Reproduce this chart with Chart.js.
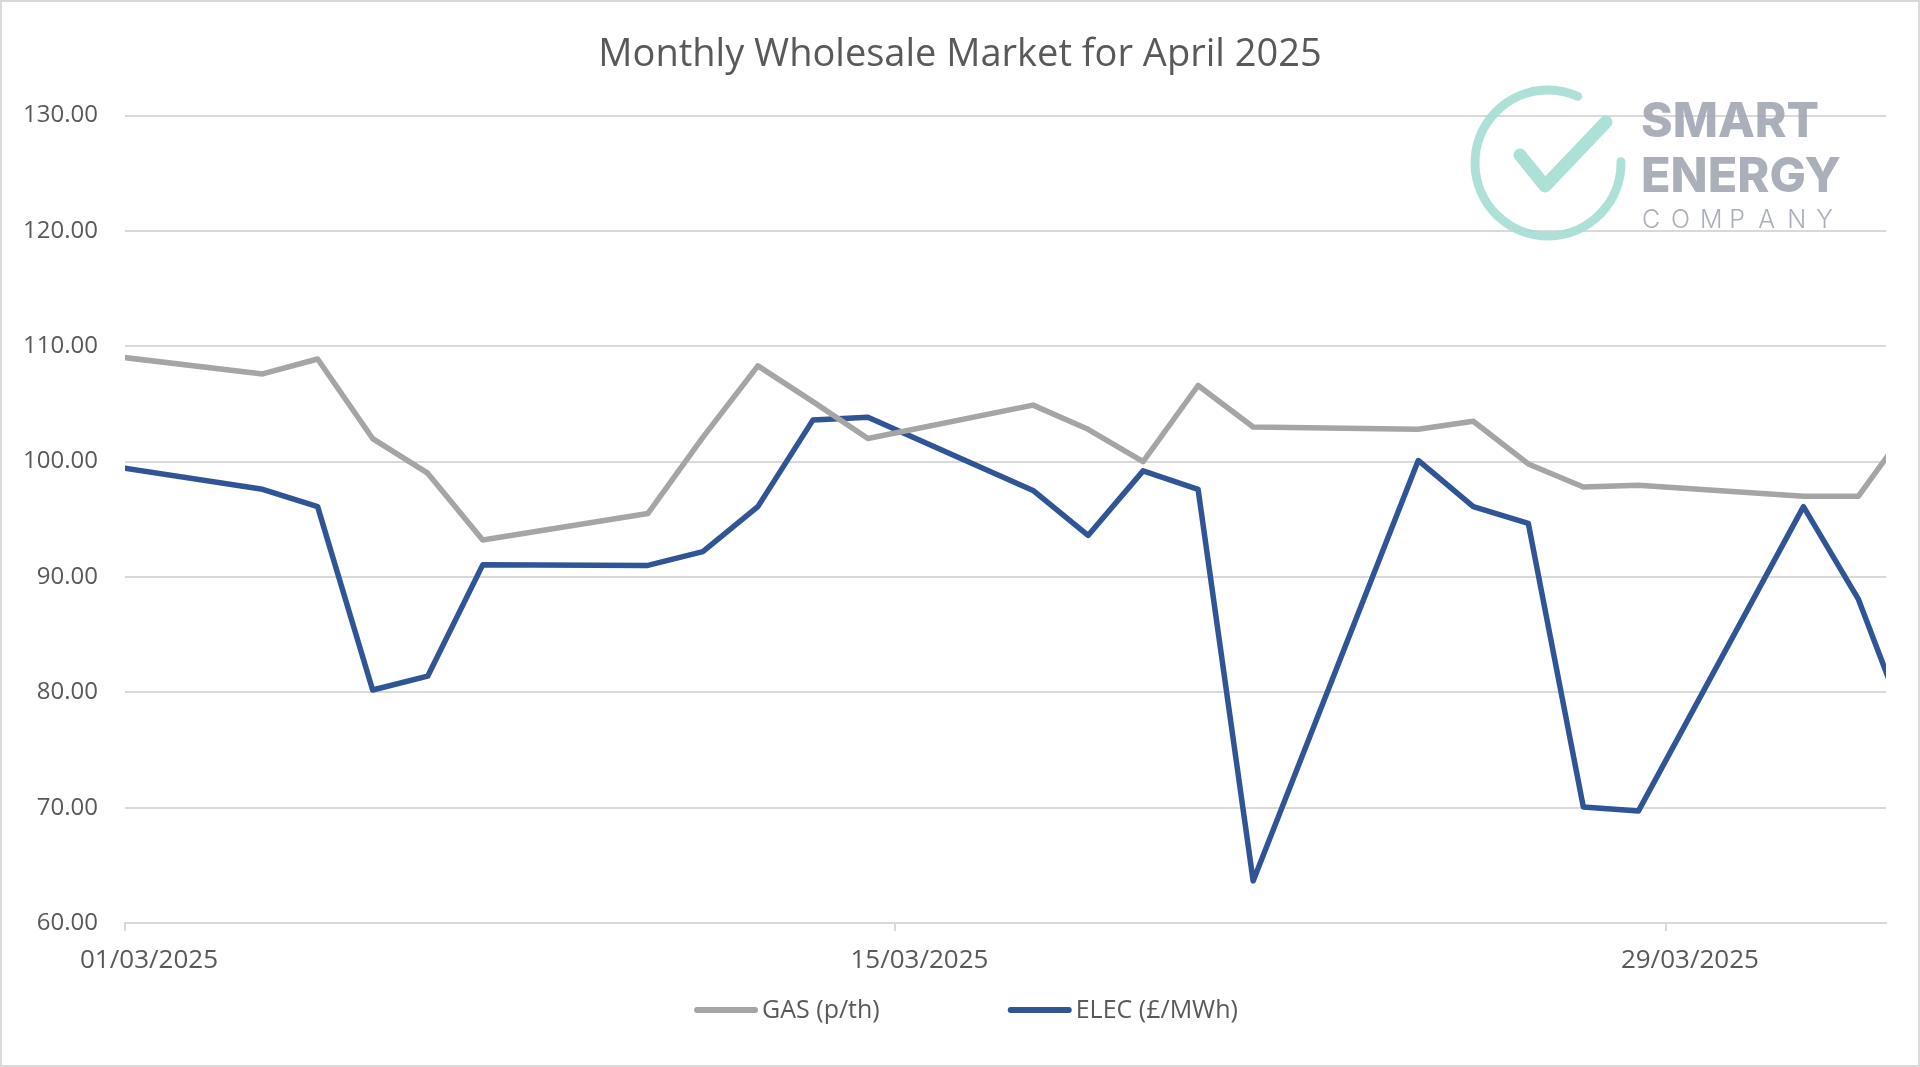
<!DOCTYPE html>
<html>
<head>
<meta charset="utf-8">
<title>Monthly Wholesale Market for April 2025</title>
<script src="https://cdn.jsdelivr.net/npm/chart.js@4.4.1/dist/chart.umd.min.js"></script>
<style>
    html, body { margin: 0; padding: 0; background: #ffffff; }
    #wholesaleChart { display: block; }
</style>
</head>
<body>
<canvas id="wholesaleChart" width="1920" height="1067"></canvas>
<script>
// Trading days only - the line runs straight across weekends
const dates = [
    "28/02/2025", "03/03/2025", "04/03/2025", "05/03/2025", "06/03/2025", "07/03/2025",
    "10/03/2025", "11/03/2025", "12/03/2025", "13/03/2025", "14/03/2025",
    "17/03/2025", "18/03/2025", "19/03/2025", "20/03/2025", "21/03/2025",
    "24/03/2025", "25/03/2025", "26/03/2025", "27/03/2025", "28/03/2025",
    "31/03/2025", "01/04/2025", "02/04/2025",
];
const gasPrices = [
    109.3, 107.6, 108.9, 102.0, 99.0, 93.2,
    95.5, 102.1, 108.3, 105.2, 102.0,
    104.9, 102.8, 100.0, 106.6, 103.0,
    102.8, 103.5, 99.8, 97.8, 97.95,
    97.0, 97.0, 103.6,
];
const elecPrices = [
    99.8, 97.6, 96.1, 80.2, 81.4, 91.05,
    91.0, 92.2, 96.1, 103.6, 103.85,
    97.5, 93.6, 99.2, 97.6, 63.65,
    100.1, 96.1, 94.65, 70.05, 69.7,
    96.1, 88.05, 75.5,
];
const seriesNames = ["GAS (p/th)", "ELEC (£/MWh)"];
const xTickLabels = ["01/03/2025", "15/03/2025", "29/03/2025"];
const axisStart = "01/03/2025";
const axisEnd = "02/04/2025";
const yMin = 60;
const yMax = 130;
const yStep = 10;

function dayNumber(d) {
    const [dd, mm, yyyy] = d.split("/").map(Number);
    return Date.UTC(yyyy, mm - 1, dd) / 86400000;
}

// excel style date axis: each point sits in the middle of its day
function toPoints(values) {
    return values.map((v, i) => ({
        x: dayNumber(dates[i]) - dayNumber(axisStart) + 0.5,
        y: v,
    }));
}

const textColor = "#595959";
const gridColor = "#d9d9d9";

const logoPlugin = {
    id: "logo",
    beforeDatasetsDraw(chart) {
        const ctx = chart.ctx;
        ctx.save();
        ctx.globalAlpha = 0.92;
        ctx.strokeStyle = "#a6ded5";
        ctx.lineCap = "round";
        ctx.lineJoin = "round";
        ctx.lineWidth = 9;
        ctx.beginPath();
        ctx.arc(1548, 163, 73, (-1 * Math.PI) / 180, (294 * Math.PI) / 180);
        ctx.stroke();
        ctx.lineWidth = 13;
        ctx.beginPath();
        ctx.moveTo(1520, 155);
        ctx.lineTo(1545, 186);
        ctx.lineTo(1606, 122);
        ctx.stroke();

        ctx.fillStyle = "#a3a8b4";
        ctx.textBaseline = "alphabetic";
        ctx.textAlign = "left";
        function fitText(text, font, x, y, width) {
            ctx.font = font;
            const w = ctx.measureText(text).width;
            ctx.save();
            ctx.translate(x, y);
            ctx.scale(width / w, 1);
            ctx.fillText(text, 0, 0);
            ctx.restore();
        }
        fitText("SMART", "800 48px Inter", 1641, 137, 178);
        fitText("ENERGY", "800 48px Inter", 1641, 192, 200);
        // spaced out lettering
        ctx.font = "300 25px Inter";
        const word = "COMPANY";
        const left = 1642, right = 1833;
        const lastW = ctx.measureText(word[word.length - 1]).width;
        const step = (right - lastW - left) / (word.length - 1);
        for (let i = 0; i < word.length; i++) {
            ctx.fillText(word[i], left + i * step, 228);
        }
        ctx.restore();
    },
};

const legendAndBorderPlugin = {
    id: "legendAndBorder",
    afterDraw(chart) {
        const ctx = chart.ctx;
        ctx.save();
        ctx.font = "25px 'Open Sans'";
        const lineLen = 64, textGap = 4, itemGap = 128;
        const items = chart.data.datasets.map((ds) => ({
            label: ds.label,
            color: ds.borderColor,
            width: lineLen + textGap + ctx.measureText(ds.label).width,
        }));
        const total = items.reduce((s, it) => s + it.width, 0) + itemGap * (items.length - 1);
        let x = chart.width / 2 + 6 - total / 2;
        const y = 1010;
        items.forEach((it) => {
            ctx.strokeStyle = it.color;
            ctx.lineWidth = 6;
            ctx.lineCap = "round";
            ctx.beginPath();
            ctx.moveTo(x + 3, y);
            ctx.lineTo(x + lineLen - 3, y);
            ctx.stroke();
            ctx.fillStyle = textColor;
            ctx.textBaseline = "middle";
            ctx.fillText(it.label, x + lineLen + textGap, y + 1);
            x += it.width + itemGap;
        });

        // outer chart border
        ctx.strokeStyle = gridColor;
        ctx.lineWidth = 2;
        ctx.strokeRect(1, 1, chart.width - 2, chart.height - 2);
        ctx.restore();
    },
};

const ctx = document.getElementById("wholesaleChart").getContext("2d");
const wholesaleChart = new Chart(ctx, {
    type: "line",
    data: {
        datasets: [
            {
                label: seriesNames[0],
                data: toPoints(gasPrices),
                borderColor: "#a5a5a5",
                borderWidth: 5.5,
                pointRadius: 0,
                tension: 0,
                borderJoinStyle: "round",
                borderCapStyle: "round",
            },
            {
                label: seriesNames[1],
                data: toPoints(elecPrices),
                borderColor: "#2f5597",
                borderWidth: 5.5,
                pointRadius: 0,
                tension: 0,
                borderJoinStyle: "round",
                borderCapStyle: "round",
            },
        ],
    },
    options: {
        responsive: false,
        animation: false,
        devicePixelRatio: 1,
        layout: {
            padding: { left: 0, right: 0, top: 0, bottom: 94 },
        },
        scales: {
            x: {
                type: "linear",
                min: 0,
                max: dayNumber(axisEnd) - dayNumber(axisStart),
                afterBuildTicks: (axis) => {
                    axis.ticks = xTickLabels.map((d) => ({
                        value: dayNumber(d) - dayNumber(axisStart),
                    }));
                },
                afterFit: (scale) => {
                    scale.height = 50;
                },
                ticks: {
                    callback: (value, index) => xTickLabels[index],
                    color: textColor,
                    font: { family: "'Open Sans'", size: 26 },
                    maxRotation: 0,
                    autoSkip: false,
                    labelOffset: 24,
                    padding: 14,
                },
                grid: {
                    drawOnChartArea: false,
                    drawTicks: true,
                    tickLength: 8,
                    color: gridColor,
                    lineWidth: 2,
                },
                border: { color: gridColor, width: 2 },
            },
            y: {
                min: yMin,
                max: yMax,
                afterFit: (scale) => {
                    scale.width = 125;
                },
                ticks: {
                    stepSize: yStep,
                    callback: (value) => value.toFixed(2),
                    color: textColor,
                    font: { family: "'Open Sans'", size: 24 },
                    padding: 27,
                },
                grid: {
                    color: gridColor,
                    lineWidth: 2,
                    drawTicks: false,
                },
                border: { display: false },
            },
            // empty axis on the right, only there to leave a gap after the plot
            // (a layout padding would pull the title off centre)
            rightGap: {
                position: "right",
                min: yMin,
                max: yMax,
                afterFit: (scale) => {
                    scale.width = 34;
                },
                ticks: { display: false },
                grid: { display: false },
                border: { display: false },
            },
        },
        plugins: {
            legend: { display: false },
            tooltip: { enabled: false },
            title: {
                display: true,
                text: "Monthly Wholesale Market for April 2025",
                color: textColor,
                font: { family: "'Open Sans'", size: 38, weight: "normal" },
                padding: { top: 32, bottom: 38 },
            },
        },
    },
    plugins: [logoPlugin, legendAndBorderPlugin],
});
</script>
</body>
</html>
